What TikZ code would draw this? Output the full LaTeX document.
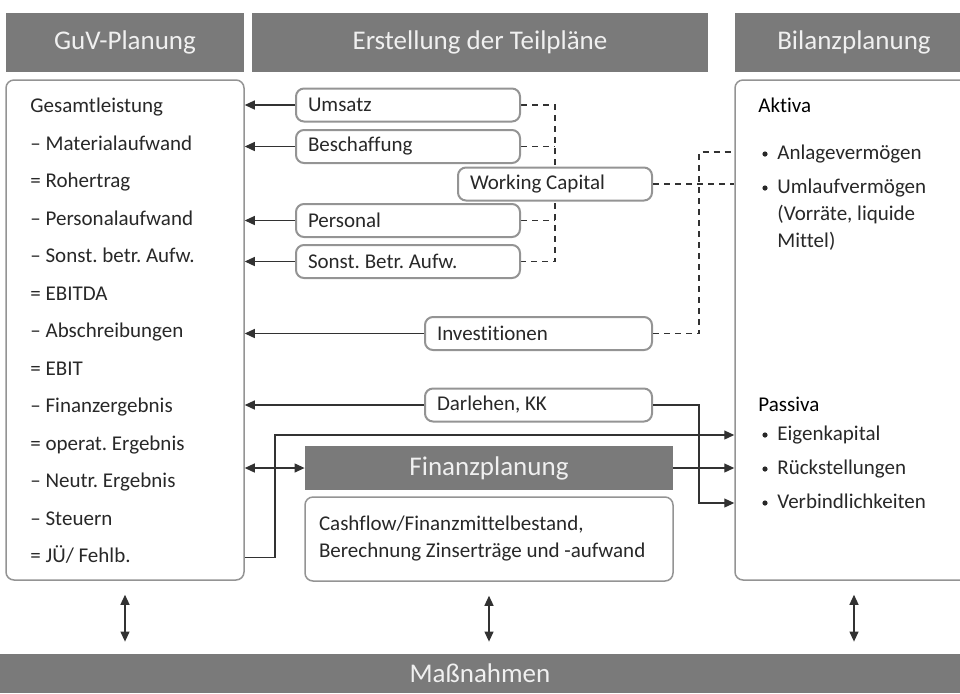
\documentclass[tikz,border=0pt]{standalone}
\usepackage{fontspec}
\setmainfont{Carlito}[Ligatures=NoCommon]
\usepackage{xcolor}
\usetikzlibrary{positioning, arrows.meta, backgrounds}

\definecolor{headgray}{RGB}{122,122,122}
\definecolor{framegray}{RGB}{148,148,148}
\definecolor{linegray}{RGB}{50,50,50}
\definecolor{txtgray}{RGB}{40,40,40}

\begin{document}
\frenchspacing
\begin{tikzpicture}[x=0.5pt, y=-0.5pt,
    headbox/.style={fill=headgray, text=white!94!black, inner sep=0pt,
      minimum height=29.5pt, font=\fontsize{13.5}{16}\selectfont},
    frame/.style={draw=framegray, line width=0.75pt, rounded corners=4pt,
      fill=white, inner sep=0pt, text=txtgray},
    planbox/.style={draw=framegray, line width=1pt, rounded corners=4pt,
      fill=white, minimum height=16.5pt, inner xsep=6pt, inner ysep=0pt,
      align=flush left, text=txtgray, font=\fontsize{10.5}{12}\selectfont},
    item/.style={anchor=west, inner sep=0pt, text=txtgray,
      font=\fontsize{10.5}{12}\selectfont, text height=7.5pt, text depth=2.5pt},
    bul/.style={circle, fill=txtgray, inner sep=0pt, minimum size=2.6pt},
    arr/.style={draw=linegray, line width=0.6pt, -{Triangle[length=5pt,width=4.5pt]}},
    dblarr/.style={arr, {Triangle[length=5pt,width=4.5pt]}-{Triangle[length=5pt,width=4.5pt]}},
    dashline/.style={draw=linegray, line width=0.6pt, dash pattern=on 3pt off 2.5pt}]

  \useasboundingbox (0,0) rectangle (960,693);
  \clip (0,0) rectangle (960,693);

  % Kopfzeilen
  \node[headbox, minimum width=119pt] (guvHead) at (125,42.5) {GuV-Planung};
  \node[headbox, minimum width=228pt] (teilHead) at (480,42.5) {Erstellung der Teilpläne};
  \node[headbox, minimum width=119pt] (bilHead) at (854,42.5) {Bilanzplanung};

  % GuV und Bilanz
  \node[frame, minimum width=119pt, minimum height=250pt] (guvBox) at (125,330) {};
  \node[frame, minimum width=119pt, minimum height=250pt] (bilBox) at (854,330) {};

  \foreach \txt [count=\i] in {Gesamtleistung, – Materialaufwand, = Rohertrag,
      – Personalaufwand, – Sonst. betr. Aufw., = EBITDA, – Abschreibungen, = EBIT,
      – Finanzergebnis, = operat. Ergebnis, – Neutr. Ergebnis, – Steuern, = JÜ/ Fehlb.}
    \node[item] (g\i) at (30,70+37.5*\i) {\txt};

  \node[item, text=black] (aktiva) at (758,107) {Aktiva};
  \node[item] (anlage) at (777,154) {Anlagevermögen};
  \node[item] (umlauf) at (777,188) {Umlaufvermögen};
  \node[item] (vorr) at (777,215) {(Vorräte, liquide};
  \node[item] (mittel) at (777,242) {Mittel)};
  \node[item, text=black] (passiva) at (758,406) {Passiva};
  \node[item] (eigen) at (777,435) {Eigenkapital};
  \node[item] (rueck) at (777,469) {Rückstellungen};
  \node[item] (verb) at (777,503) {Verbindlichkeiten};
  \foreach \n in {anlage, umlauf, eigen, rueck, verb}
    \node[bul, left=4.5pt of \n] (bul-\n) {};

  % Teilpläne
  \node[planbox, text width=100pt] (umsatz) at (408,105) {Umsatz};
  \node[planbox, text width=100pt] (beschaffung) at (408,146.5) {Beschaffung};
  \node[planbox, text width=85pt] (wc) at (555,184) {Working Capital};
  \node[planbox, text width=100pt] (personal) at (408,220.5) {Personal};
  \node[planbox, text width=100pt] (sonst) at (408,261.5) {Sonst. Betr. Aufw.};
  \node[planbox, text width=101.5pt] (invest) at (538.5,333.5) {Investitionen};
  \node[planbox, text width=101.5pt] (darlehen) at (538.5,405) {Darlehen, KK};

  % Finanzplanung
  \node[headbox, minimum width=184pt, minimum height=22pt] (finHead) at (489,468) {Finanzplanung};
  \node[frame, minimum width=184pt, minimum height=42pt, text width=170pt, align=flush left,
    font=\fontsize{10.5}{13.5}\selectfont] (cashBox) at (489,539)
    {Cashflow/Finanzmittelbestand,\\Berechnung Zinserträge und -aufwand};

  % Maßnahmen
  \node[headbox, minimum width=480pt, minimum height=19.5pt] (massn) at (480,673.5) {Maßnahmen};

  % Teilpläne -> GuV
  \foreach \n in {umsatz, beschaffung, personal, sonst, invest, darlehen}
    \draw[arr] (\n.west) -- (\n.west -| guvBox.east);

  % Working Capital
  \begin{scope}[on background layer]
    \draw[dashline] (umsatz.east) -- (umsatz.east -| wc.center) -- (sonst.east -| wc.center) -- (sonst.east);
    \draw[dashline] (beschaffung.east) -- (beschaffung.east -| wc.center);
    \draw[dashline] (personal.east) -- (personal.east -| wc.center);
  \end{scope}
  \coordinate (busX) at (699,0);
  \draw[dashline] (wc.east) -- (wc.east -| bilBox.west);
  \draw[dashline] (invest.east) -| (busX |- 0,152) -- (bilBox.west |- 0,152);

  % Darlehen -> Verbindlichkeiten
  \draw[arr] (darlehen.east) -| (busX |- verb) -- (verb -| bilBox.west);

  % JÜ -> Eigenkapital
  \coordinate (juX) at (275,0);
  \draw[arr] (g13 -| guvBox.east) -| (juX |- eigen) -- (eigen -| bilBox.west);

  % GuV <-> Finanzplanung -> Bilanz
  \draw[dblarr] (finHead -| guvBox.east) -- (finHead.west);
  \draw[arr] (finHead.east) -- (finHead -| bilBox.west);

  % Maßnahmen
  \foreach \n in {guvBox, cashBox, bilBox}
    \draw[dblarr, shorten <=7pt, shorten >=6pt] (\n.south) -- (\n.south |- massn.north);
\end{tikzpicture}
\end{document}
